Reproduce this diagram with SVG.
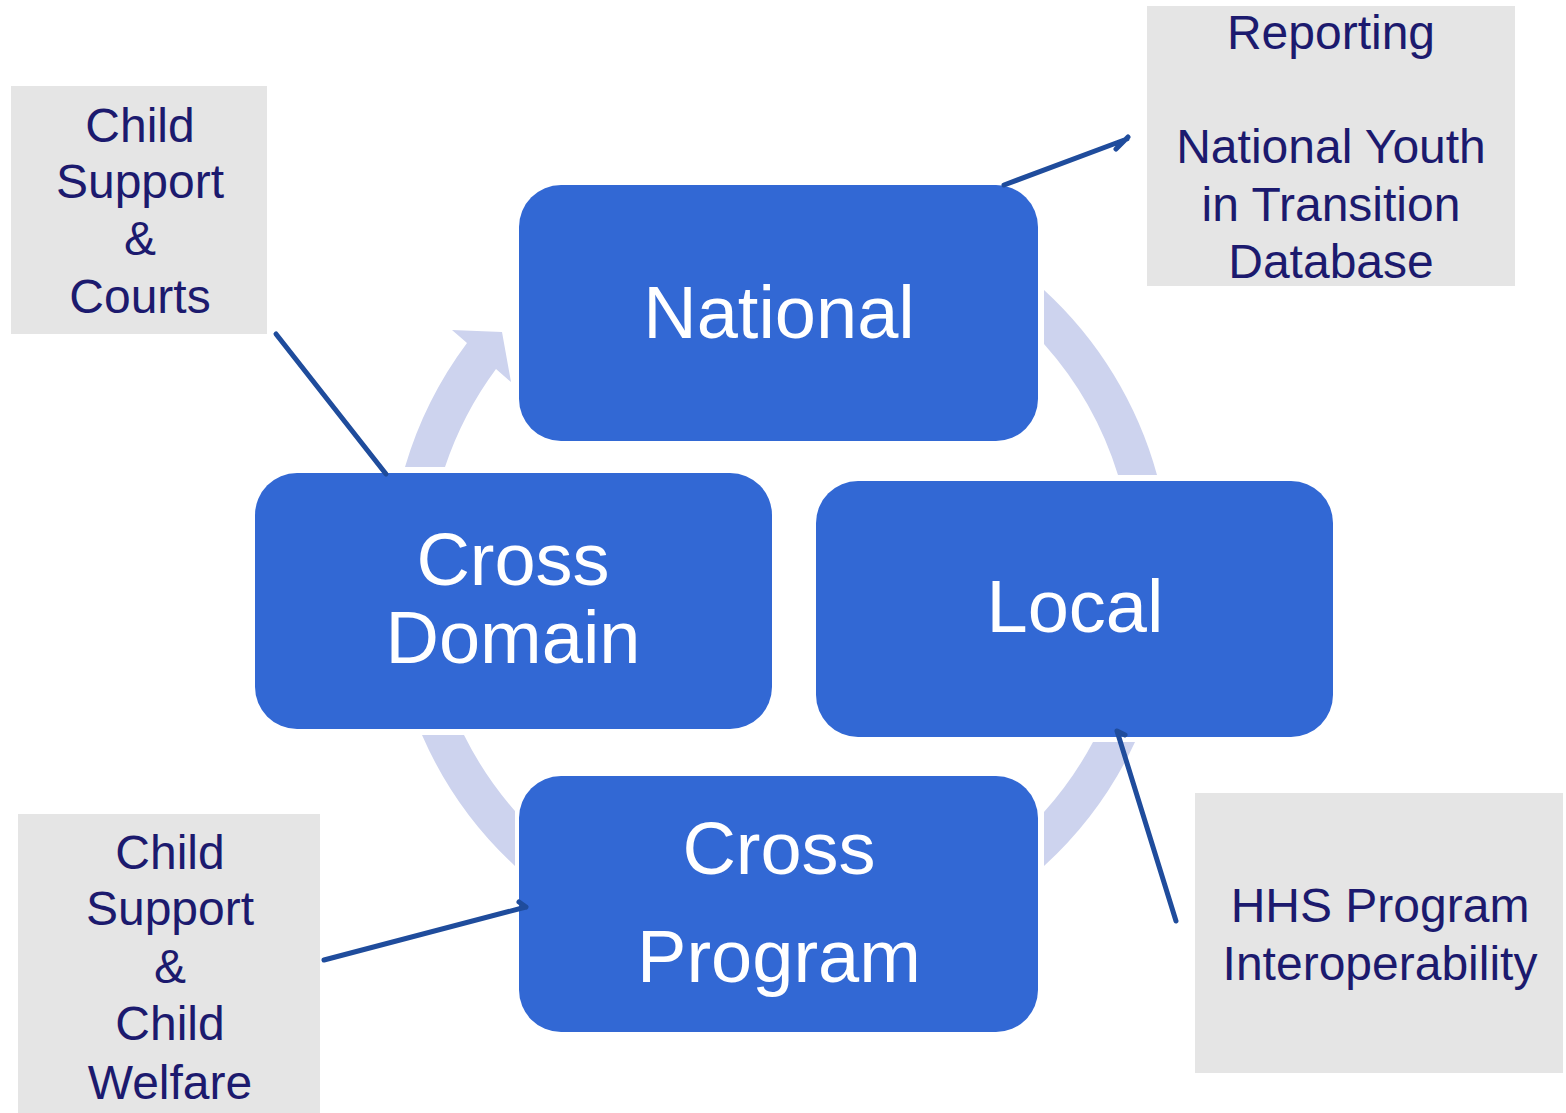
<svg xmlns="http://www.w3.org/2000/svg" width="1566" height="1113" viewBox="0 0 1566 1113">
<style>
.ring{fill:#CDD3EE}
.node{fill:#3268D4}
.ntext{font-family:"Liberation Sans",Arial,sans-serif;font-size:74px;fill:#FFFFFF;text-anchor:middle}
.box{fill:#E5E5E5}
.btext{font-family:"Liberation Sans",Arial,sans-serif;font-size:48px;fill:#1C1A6E;text-anchor:middle}
.conn{fill:none;stroke:#1F4C9C;stroke-width:5;stroke-linecap:round;stroke-linejoin:round}
</style>
<rect width="1566" height="1113" fill="#FFFFFF"/>
<g id="cycle-arrows">
<path class="ring" d="M1044,290 A391,391 0 0 1 1157,475 L1118,475 A353,353 0 0 0 1044,344 Z"/>
<path class="ring" d="M1135,742 A391,391 0 0 1 1044,866 L1044,812 A353,353 0 0 0 1093,742 Z"/>
<path class="ring" d="M515,866 A391,391 0 0 1 422,735 L464,735 A353,353 0 0 0 515,811 Z"/>
<path class="ring" d="M405,467 A391,391 0 0 1 467,343 L452,330 L502,332 L511,382 L496,369 A353,353 0 0 0 445,467 Z"/>
</g>
<g id="node-national">
<rect class="node" x="519" y="185" width="519" height="256" rx="42"/>
<text class="ntext" x="779" y="338">National</text>
</g>
<g id="node-local">
<rect class="node" x="816" y="481" width="517" height="256" rx="42"/>
<text class="ntext" x="1075" y="632">Local</text>
</g>
<g id="node-cross-program">
<rect class="node" x="519" y="776" width="519" height="256" rx="42"/>
<text class="ntext" x="779" y="874">Cross</text>
<text class="ntext" x="779" y="982">Program</text>
</g>
<g id="node-cross-domain">
<rect class="node" x="255" y="473" width="517" height="256" rx="42"/>
<text class="ntext" x="513" y="585">Cross</text>
<text class="ntext" x="513" y="663">Domain</text>
</g>
<g id="callout-courts">
<rect class="box" x="11" y="86" width="256" height="248"/>
<text class="btext" x="140" y="142">Child</text>
<text class="btext" x="140" y="198">Support</text>
<text class="btext" x="140" y="255">&amp;</text>
<text class="btext" x="140" y="313">Courts</text>
</g>
<g id="callout-reporting">
<rect class="box" x="1147" y="6" width="368" height="280"/>
<text class="btext" x="1331" y="49">Reporting</text>
<text class="btext" x="1331" y="163">National Youth</text>
<text class="btext" x="1331" y="221">in Transition</text>
<text class="btext" x="1331" y="278">Database</text>
</g>
<g id="callout-welfare">
<rect class="box" x="18" y="814" width="302" height="299"/>
<text class="btext" x="170" y="869">Child</text>
<text class="btext" x="170" y="925">Support</text>
<text class="btext" x="170" y="983">&amp;</text>
<text class="btext" x="170" y="1040">Child</text>
<text class="btext" x="170" y="1099">Welfare</text>
</g>
<g id="callout-hhs">
<rect class="box" x="1195" y="793" width="368" height="280"/>
<text class="btext" x="1380" y="922">HHS Program</text>
<text class="btext" x="1380" y="980">Interoperability</text>
</g>
<g id="connectors">
<path class="conn" d="M1004,185 L1127,139 M1116,149 L1128,137"/>
<path class="conn" d="M276,334 L386,474"/>
<path class="conn" d="M324,960 L526,907 M519,902 L526,907"/>
<path class="conn" d="M1176,921 L1117,731 L1125,735"/>
</g>
</svg>
